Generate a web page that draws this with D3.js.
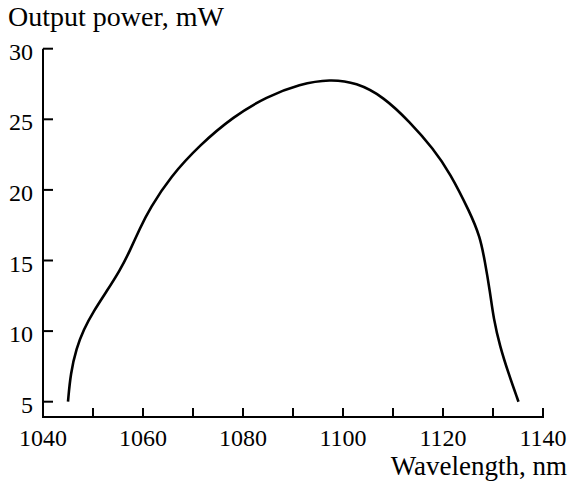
<!DOCTYPE html>
<html>
<head>
<meta charset="utf-8">
<script src="https://cdn.jsdelivr.net/npm/d3@7"></script>
<style>
html,body{margin:0;padding:0;background:#fff;}
svg{display:block;}
text{font-family:"Liberation Serif","Times New Roman",serif;fill:#000;}
</style>
</head>
<body>
<svg id="chart" width="569" height="482"></svg>
<script>
const wavelength = [1045.0,1045.5,1046.7,1048.1,1050.1,1052.7,1055.4,1057.4,1059.4,1061.4,1065.4,1071.4,1078.1,1084.7,1091.4,1097.4,1102.7,1108.1,1113.4,1118.1,1121.4,1125.4,1127.4,1128.4,1129.4,1130.1,1131.4,1133.1,1135.1];
const power      = [5.0,7.0,8.8,10.1,11.4,12.8,14.3,15.7,17.3,18.7,20.9,23.2,25.2,26.6,27.5,27.85,27.6,26.6,24.8,22.9,21.2,18.4,16.7,14.9,12.8,10.9,8.9,7.0,5.0];
const xMajorTicks = [1040,1060,1080,1100,1120,1140];
const xMinorTicks = [1050,1070,1090,1110,1130];
const yTicks = [5,10,15,20,25,30];
const yTitle = "Output power, mW";
const xTitle = "Wavelength, nm";

const svg = d3.select("#chart");
const x = d3.scaleLinear().domain([1040,1140]).range([43,543]);
const y = d3.scaleLinear().domain([5,30]).range([401.7,48.7]);
const axisY = 417;

// x axis
const gx = svg.append("g").attr("transform",`translate(0,${axisY})`);
gx.append("line").attr("x1",x(1040)).attr("x2",x(1140)+1).attr("stroke","#000").attr("stroke-width",2);
gx.selectAll("line.tk").data(xMajorTicks.concat(xMinorTicks).filter(d=>d!==1040)).enter().append("line")
  .attr("class","tk").attr("x1",d=>x(d)).attr("x2",d=>x(d)).attr("y1",0).attr("y2",-9)
  .attr("stroke","#000").attr("stroke-width",2);
gx.selectAll("text").data(xMajorTicks).enter().append("text")
  .attr("x",d=>x(d)).attr("y",28.5).attr("text-anchor","middle").attr("font-size",24).text(d=>d);

// y axis
const gy = svg.append("g").attr("transform",`translate(${x(1040)},0)`);
gy.append("line").attr("y1",y(30)).attr("y2",axisY+1).attr("stroke","#000").attr("stroke-width",2);
gy.selectAll("line.tk").data(yTicks).enter().append("line")
  .attr("class","tk").attr("x1",0).attr("x2",10).attr("y1",d=>y(d)).attr("y2",d=>y(d))
  .attr("stroke","#000").attr("stroke-width",2);
gy.selectAll("text").data(yTicks).enter().append("text")
  .attr("x",-10).attr("y",d=>y(d)+11).attr("text-anchor","end").attr("font-size",24).text(d=>d);

// titles
svg.append("text").attr("x",8).attr("y",26).attr("font-size",28).text(yTitle);
svg.append("text").attr("x",567).attr("y",475).attr("text-anchor","end").attr("font-size",27).text(xTitle);

// curve
const pts = wavelength.map((w,i)=>[w,power[i]]);
const line = d3.line().x(d=>x(d[0])).y(d=>y(d[1])).curve(d3.curveBasis);
svg.append("path").datum(pts).attr("d",line).attr("fill","none").attr("stroke","#000").attr("stroke-width",2.6);
</script>
</body>
</html>
